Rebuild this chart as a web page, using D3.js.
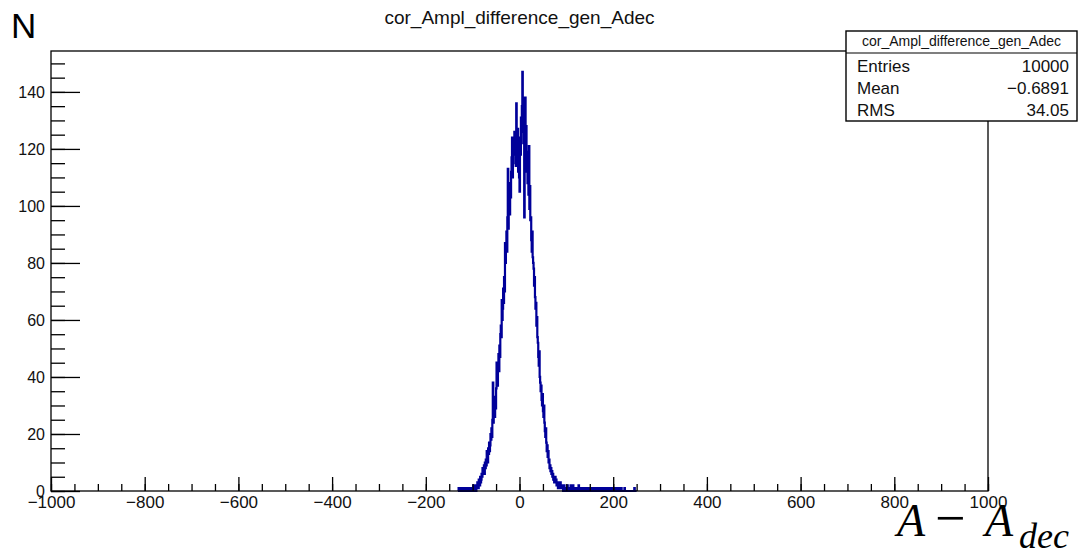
<!DOCTYPE html>
<html>
<head>
<meta charset="utf-8">
<script src="https://cdn.jsdelivr.net/npm/d3@7"></script>
<style>
  body { margin: 0; background: #fff; }
  svg { display: block; }
</style>
</head>
<body>
<script>
// histogram: cor_Ampl_difference_gen_Adec, 1-unit bins on [-1000, 1000]
const histTitle = "cor_Ampl_difference_gen_Adec";
const xRange = [-1000, 1000];
const binStart = -130; // left edge of first listed bin
const binWidth = 1;
// counts per bin, from -130 upward (bins outside are empty)
const counts = [
  1,0,0,1,0,1,0,0,1,0,       // -130
  0,1,0,0,1,0,1,0,0,1,       // -120
  0,1,1,0,0,1,0,1,1,0,       // -110
  1,2,0,1,1,2,1,0,2,1,       // -100
  3,2,1,4,3,2,5,3,4,6,       // -90
  5,8,6,7,9,6,10,8,11,9,     // -80
  14,12,10,15,13,17,14,16,20,18, // -70
  22,19,25,38,24,27,30,26,33,29, // -60
  36,45,40,37,44,48,42,51,47,55, // -50
  58,54,67,60,64,71,66,75,70,87, // -40
  80,85,91,84,96,113,92,99,104,97, // -30
  108,103,112,117,124,110,115,121,118,126, // -20
  119,125,114,136,122,118,127,112,121,110, // -10
  105,124,118,131,126,135,147,129,122,138, // 0
  96,120,138,117,128,112,119,108,114,104,  // 10
  121,99,107,95,96,88,84,91,82,80,  // 20
  78,72,75,68,64,66,58,61,54,52,    // 30
  47,44,49,40,38,35,37,32,30,34,    // 40
  28,26,30,24,21,19,22,17,14,16,    // 50
  12,14,10,11,8,9,7,8,6,7,          // 60
  5,6,4,5,3,4,5,3,4,2,              // 70
  3,2,1,3,2,1,2,3,1,2,              // 80
  1,2,1,0,1,2,1,0,1,1,              // 90
  0,1,2,0,1,0,1,1,0,2,              // 100
  1,0,1,0,2,1,0,1,0,1,              // 110
  0,1,0,1,0,0,2,1,0,1,              // 120
  1,0,0,1,0,1,0,0,1,0,              // 130
  0,1,0,1,1,0,0,1,0,0,              // 140
  1,0,0,0,1,0,1,0,0,1,              // 150
  0,0,1,0,0,1,0,0,0,1,              // 160
  0,1,0,0,0,1,0,0,1,0,              // 170
  0,0,1,0,0,0,1,0,0,0,              // 180
  1,0,0,0,1,0,0,0,0,1,              // 190
  0,0,0,1,0,0,0,0,1,0,              // 200
  0,0,1,0,0,0,0,1,0,0,              // 210
  0,0,0,0,1,0,0,0,0,0,              // 220
  0,0,0,0,0,0,0,0,0,0,              // 230
  0,0,0,0,0,1,0,0,0,0               // 240
];
const statNames = ["Entries", "Mean", "RMS"];
const statValues = ["10000", "\u22120.6891", "34.05"];
const yLabel = "N";

const width = 1079, height = 550;
const margin = { top: 51, right: 91, bottom: 59, left: 51 };
const font = "'Liberation Sans', Arial, Helvetica, sans-serif";

const svg = d3.select("body").append("svg")
  .attr("width", width)
  .attr("height", height);

const x = d3.scaleLinear().domain(xRange).range([margin.left, width - margin.right]);
const yMax = d3.max(counts) * 1.05; // ROOT adds 5% headroom
const y = d3.scaleLinear().domain([0, yMax]).range([height - margin.bottom, margin.top]);

// histogram outline
const pts = [[binStart, 0]]
  .concat(counts.map((c, i) => [binStart + i * binWidth, c]))
  .concat([[binStart + counts.length * binWidth, 0]]);

svg.append("path")
  .datum(pts)
  .attr("fill", "none")
  .attr("stroke", "#000099")
  .attr("stroke-width", 2.2)
  .attr("d", d3.line().x(d => x(d[0])).y(d => y(d[1])).curve(d3.curveStepAfter));

// x axis: minor ticks, then major with labels
svg.append("g").attr("transform", `translate(0,${y(0)})`)
  .call(d3.axisBottom(x).ticks(40).tickSize(-7).tickFormat(""))
  .call(g => g.select(".domain").remove());
const xMajor = svg.append("g").attr("transform", `translate(0,${y(0)})`)
  .call(d3.axisBottom(x).ticks(10).tickSize(-14).tickPadding(5).tickFormat(d3.format("d")))
  .call(g => g.select(".domain").remove());
xMajor.selectAll("text").attr("font-family", font).attr("font-size", 17).attr("fill", "#111");

// y axis
svg.append("g").attr("transform", `translate(${x(xRange[0])},0)`)
  .call(d3.axisLeft(y).ticks(30).tickSize(-14).tickFormat(""))
  .call(g => g.select(".domain").remove());
const yMajor = svg.append("g").attr("transform", `translate(${x(xRange[0])},0)`)
  .call(d3.axisLeft(y).ticks(8).tickSize(-29).tickPadding(6))
  .call(g => g.select(".domain").remove());
yMajor.selectAll("text").attr("font-family", font).attr("font-size", 16).attr("fill", "#111");

svg.selectAll(".tick line").attr("stroke", "#000").attr("stroke-width", 1.3);

// frame
svg.append("rect")
  .attr("x", x(xRange[0])).attr("y", y(yMax))
  .attr("width", x(xRange[1]) - x(xRange[0]))
  .attr("height", y(0) - y(yMax))
  .attr("fill", "none").attr("stroke", "#000").attr("stroke-width", 1.3);

// title
svg.append("text")
  .attr("x", (x(xRange[0]) + x(xRange[1])) / 2).attr("y", 24)
  .attr("text-anchor", "middle")
  .attr("font-family", font).attr("font-size", 19).attr("fill", "#111")
  .text(histTitle);

// stats box
const box = { x: 846, y: 31, w: 231, h: 90 };
const stats = svg.append("g");
stats.append("rect")
  .attr("x", box.x).attr("y", box.y).attr("width", box.w).attr("height", box.h)
  .attr("fill", "#fff").attr("stroke", "#000").attr("stroke-width", 1.4);
stats.append("line")
  .attr("x1", box.x).attr("x2", box.x + box.w)
  .attr("y1", box.y + 22).attr("y2", box.y + 22)
  .attr("stroke", "#000").attr("stroke-width", 1.2);
stats.append("text")
  .attr("x", box.x + box.w / 2).attr("y", box.y + 15)
  .attr("text-anchor", "middle")
  .attr("font-family", font).attr("font-size", 14).attr("fill", "#111")
  .text(histTitle);
statNames.forEach((name, i) => {
  const by = box.y + 41 + i * 22;
  stats.append("text")
    .attr("x", box.x + 11).attr("y", by)
    .attr("font-family", font).attr("font-size", 17).attr("fill", "#111")
    .text(name);
  stats.append("text")
    .attr("x", box.x + box.w - 8).attr("y", by)
    .attr("text-anchor", "end")
    .attr("font-family", font).attr("font-size", 17).attr("fill", "#111")
    .text(statValues[i]);
});

// axis titles
svg.append("text")
  .attr("x", 11).attr("y", 38)
  .attr("font-family", font).attr("font-size", 35).attr("fill", "#000")
  .text(yLabel);

const xt = svg.append("text")
  .attr("y", 536)
  .attr("font-family", "'Liberation Serif', 'DejaVu Serif', serif")
  .attr("font-size", 46).attr("fill", "#000");
xt.append("tspan").attr("x", 897).attr("font-style", "italic").text("A");
xt.append("tspan").attr("x", 935).attr("font-size", 54).text("\u2212");
xt.append("tspan").attr("x", 985).attr("font-style", "italic").text("A");
xt.append("tspan").attr("x", 1019).attr("dy", 12).attr("font-size", 36).attr("font-style", "italic").text("dec");
</script>
</body>
</html>
